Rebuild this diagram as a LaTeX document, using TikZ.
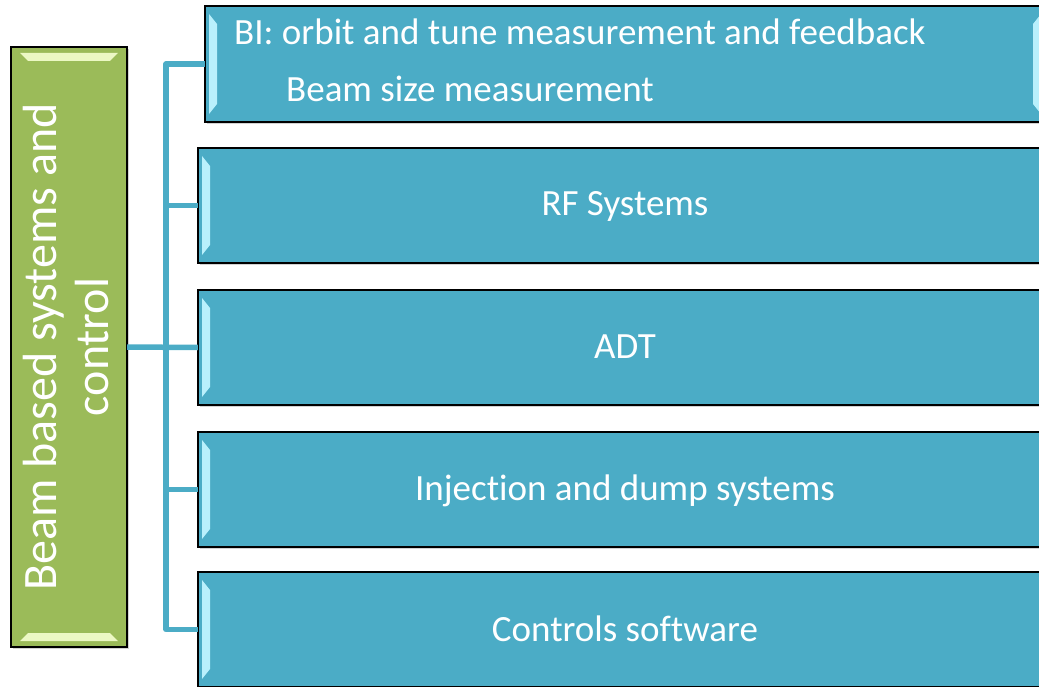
\documentclass[tikz,border=0pt]{standalone}
\usepackage{fontspec}
\setmainfont[Ligatures={NoCommon}]{Carlito}
\usetikzlibrary{shadows}
\definecolor{aqua}{RGB}{75,172,198}
\definecolor{olive}{RGB}{155,187,89}
\definecolor{aquahi}{RGB}{185,240,252}
\definecolor{olivehi}{RGB}{236,248,196}
\tikzset{
  bluebox/.style={draw=black, line width=1.6pt, fill=aqua, inner sep=0pt,
    drop shadow={opacity=0.35, shadow xshift=1.5pt, shadow yshift=-2pt}},
  greenbox/.style={draw=black, line width=1.6pt, fill=olive, inner sep=0pt,
    drop shadow={opacity=0.35, shadow xshift=1.5pt, shadow yshift=-2pt}},
  conn/.style={draw=aqua, line width=5.5pt, line join=round},
  boxtext/.style={text=white, font=\fontsize{37}{44}\selectfont, inner sep=0pt},
  greentext/.style={text=white, font=\fontsize{48}{52}\selectfont, align=center, inner sep=0pt, rotate=90}
}
\begin{document}
\begin{tikzpicture}[x=1pt,y=-1pt]
\useasboundingbox (0,0) rectangle (1039,687);
\clip (0,0) rectangle (1039,687);
% green box
\path[greenbox] (11,47) rectangle (127,647);
\node[minimum width=116pt, minimum height=600pt, inner sep=0pt] (green) at (69,347) {};
\fill[olivehi] (20,53) -- (118,53) -- (110,61) -- (28,61) -- cycle;
\fill[olivehi] (20,641) -- (118,641) -- (110,633) -- (28,633) -- cycle;
\node[greentext] (gtext) at (66,347) {Beam based systems and\\control};
% blue boxes
\path[bluebox] (205,6) rectangle (1045,122);
\node[minimum width=840pt, minimum height=116pt] (box1) at (625,64) {};
\path[bluebox] (198,148) rectangle (1052,263);
\node[minimum width=854pt, minimum height=115pt] (box2) at (625,205.5) {};
\path[bluebox] (198,290) rectangle (1052,405);
\node[minimum width=854pt, minimum height=115pt] (box3) at (625,347.5) {};
\path[bluebox] (198,432) rectangle (1052,547);
\node[minimum width=854pt, minimum height=115pt] (box4) at (625,489.5) {};
\path[bluebox] (198,572) rectangle (1052,687);
\node[minimum width=854pt, minimum height=115pt] (box5) at (625,629.5) {};
% bevel highlights
\foreach \t/\b/\l in {6/122/205,148/263/198,290/405/198,432/547/198,572/687/198}{
  \fill[aquahi] (\l+4,\t+8) -- (\l+12,\t+18) -- (\l+12,\b-18) -- (\l+4,\b-8) -- cycle;
}
\fill[aquahi] (1041,14) -- (1033,24) -- (1033,104) -- (1041,114) -- cycle;
% texts
\node[boxtext, anchor=base west] (t1a) at (234,45) {BI: orbit and tune measurement and feedback};
\node[boxtext, anchor=base west] (t1b) at (286,102) {Beam size measurement};
\node[boxtext, anchor=base] (t2) at (625,216) {RF Systems};
\node[boxtext, anchor=base] (t3) at (625,358) {ADT};
\node[boxtext, anchor=base] (t4) at (625,500) {Injection and dump systems};
\node[boxtext, anchor=base] (t5) at (625,641) {Controls software};
% connectors
\coordinate (spine) at (166,347);
\draw[conn] (green.east) -- (box3.west);
\draw[conn] (box1.west) -| (spine) |- (box5.west);
\draw[conn] (box2.west) -- (box2.west -| spine);
\draw[conn] (box4.west) -- (box4.west -| spine);
\end{tikzpicture}
\end{document}
